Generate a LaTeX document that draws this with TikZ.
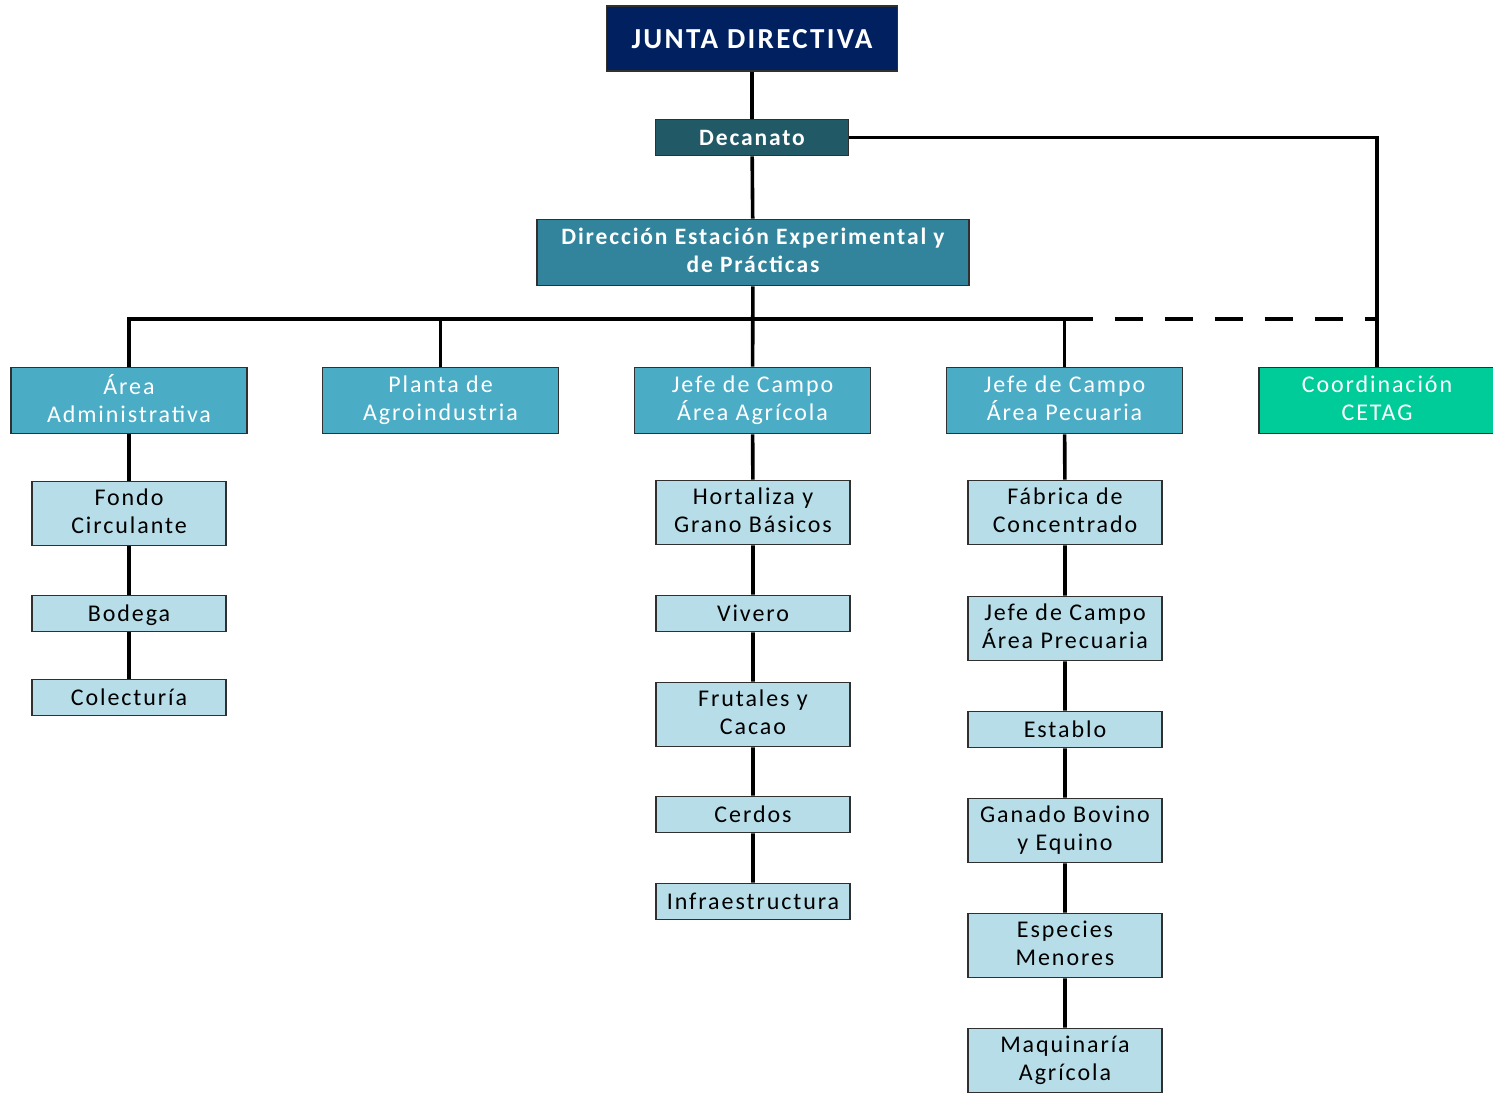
\documentclass[tikz,border=0pt]{standalone}
\usepackage{fontspec}
\setmainfont{Carlito}
\newfontfamily\chartfont[LetterSpace=8]{Carlito}
\usepackage{xcolor}
\definecolor{navyjunta}{HTML}{002060}
\definecolor{tealdec}{HTML}{215967}
\definecolor{tealdir}{HTML}{31849B}
\definecolor{bluearea}{HTML}{4BACC6}
\definecolor{greencet}{HTML}{00CC99}
\definecolor{lightunit}{HTML}{B7DEE8}
\definecolor{boxline}{HTML}{303030}

\begin{document}
\begin{tikzpicture}[x=1pt,y=-1pt,
		box/.style={draw=boxline,line width=1.6pt,inner sep=0pt,align=center,execute at begin node={\vphantom{Áy}}},
		topbox/.style={box,fill=navyjunta,text=white,font=\chartfont\fontsize{29}{32}\selectfont\bfseries},
		decbox/.style={box,fill=tealdec,text=white,font=\chartfont\fontsize{23.5}{28}\selectfont\bfseries},
		dirbox/.style={box,fill=tealdir,text=white,font=\chartfont\fontsize{23.5}{28}\selectfont\bfseries},
		areabox/.style={box,fill=bluearea,text=white,font=\chartfont\fontsize{24}{28}\selectfont,minimum width=236pt,minimum height=66pt},
		cetbox/.style={areabox,fill=greencet},
		unitbox/.style={box,fill=lightunit,text=black,font=\chartfont\fontsize{24}{28}\selectfont,minimum width=194pt},
		tall/.style={unitbox,minimum height=64pt},
		short/.style={unitbox,minimum height=36pt},
		conn/.style={line width=3.6pt,black}]
			
			\useasboundingbox (0,0) rectangle (1493,1093);
			
			% upper levels
			\node[topbox,minimum width=291pt,minimum height=65pt] (junta) at (752,38.5) {JUNTA DIRECTIVA};
			\node[decbox,minimum width=193pt,minimum height=36pt] (decanato) at (752,137.5) {Decanato};
			\node[dirbox,minimum width=432pt,minimum height=66pt] (direccion) at (753,252.5) {Dirección Estación Experimental y\\de Prácticas};
			
			% areas
			\node[areabox] (admin) at (129,400.5) {Área\\Administrativa};
			\node[areabox] (planta) at (440.5,400.5) {Planta de\\Agroindustria};
			\node[areabox] (agricola) at (752.5,400.5) {Jefe de Campo\\Área Agrícola};
			\node[areabox] (pecuaria) at (1064.5,400.5) {Jefe de Campo\\Área Pecuaria};
			\node[cetbox] (cetag) at (1377,400.5) {Coordinación\\CETAG};
			
			% administrativa units
			\node[tall] (fondo) at (129,513.5) {Fondo\\Circulante};
			\node[short] (bodega) at (129,613.5) {Bodega};
			\node[short] (colecturia) at (129,697.5) {Colecturía};
			
			% agricola units
			\node[tall] (hortaliza) at (753,512.5) {Hortaliza y\\Grano Básicos};
			\node[short] (vivero) at (753,613.5) {Vivero};
			\node[tall] (frutales) at (753,714.5) {Frutales y\\Cacao};
			\node[short] (cerdos) at (753,814.5) {Cerdos};
			\node[short] (infra) at (753,901.5) {Infraestructura};
			
			% pecuaria units
			\node[tall] (fabrica) at (1065,512.5) {Fábrica de\\Concentrado};
			\node[tall] (precuaria) at (1065,628.5) {Jefe de Campo\\Área Precuaria};
			\node[short] (establo) at (1065,729.5) {Establo};
			\node[tall] (ganado) at (1065,830.5) {Ganado Bovino\\y Equino};
			\node[tall] (especies) at (1065,945.5) {Especies\\Menores};
			\node[tall] (maquinaria) at (1065,1060.5) {Maquinaría\\Agrícola};
			
			% bus between direction and areas
			\coordinate (busL) at (129,319);
			\coordinate (busR) at (1064.5,319);
			\coordinate (busE) at (1377,319);
			
			% connectors
			\draw[conn] (junta) -- (decanato);
			\draw[conn] (decanato) -- (direccion);
			\draw[conn] (decanato) -| (cetag);
			\draw[conn] (direccion) -- (agricola);
			\draw[conn] (admin) -- (busL) -- (busR) -- (pecuaria);
			\draw[conn] (planta) -- (planta |- busL);
			\draw[conn,dash pattern=on 28pt off 22pt] (busR) -- (busE);
			\draw[conn] (admin) -- (fondo) -- (bodega) -- (colecturia);
			\draw[conn] (agricola) -- (hortaliza) -- (vivero) -- (frutales) -- (cerdos) -- (infra);
			\draw[conn] (pecuaria) -- (fabrica) -- (precuaria) -- (establo) -- (ganado) -- (especies) -- (maquinaria);
			
		\end{tikzpicture}
\end{document}
